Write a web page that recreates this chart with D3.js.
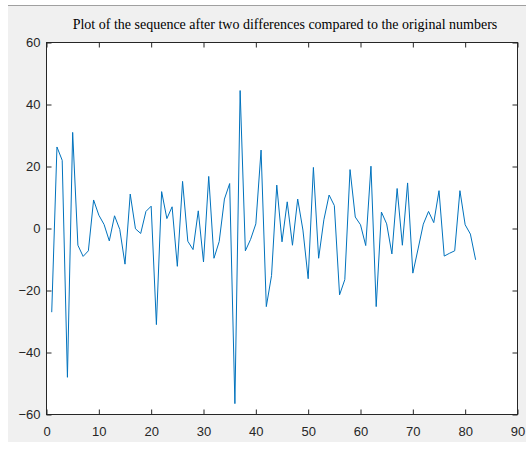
<!DOCTYPE html>
<html>
<head>
<meta charset="utf-8">
<script src="https://cdn.jsdelivr.net/npm/d3@7"></script>
<style>
  html, body { margin: 0; padding: 0; background: #ffffff; }
  .tick text { font-family: "Liberation Sans", Arial, sans-serif; font-size: 13px; fill: #262626; }
  .title { font-family: "Liberation Serif", "Times New Roman", serif; font-size: 14px; fill: #000; }
</style>
</head>
<body>
<svg id="chart" width="526" height="461"></svg>
<script>
// values of the differenced sequence, index 1..82
const seqValues = [
  -27, 26.3, 22, -48, 31, -5.4, -9, -7.2, 9.2, 4.3,
  1.3, -4, 4.1, -0.3, -11.5, 11.1, -0.1, -1.6, 5.5, 7.2,
  -31, 11.9, 3.2, 7, -12.2, 15.2, -4.1, -6.8, 5.7, -10.8,
  16.8, -9.6, -4.2, 9.5, 14.5, -56.5, 44.5, -7.2, -3.5, 1.5,
  25.3, -25.2, -15.2, 14, -4.3, 8.6, -5.4, 9.5, -0.5, -16.2,
  19.7, -9.6, 2.8, 10.8, 7.4, -21.4, -16.5, 19, 3.7, 1.2,
  -5.5, 20.1, -25.2, 5.3, 1.5, -8.2, 12.9, -5.4, 14.7, -14.4,
  -6.6, 1.4, 5.5, 1.9, 12.2, -8.9, -8, -7.2, 12.2, 1.2,
  -1.8, -10.1
];
const seqIndex = seqValues.map((v, i) => i + 1);
const xTicks = [0, 10, 20, 30, 40, 50, 60, 70, 80, 90];
const yTicks = [-60, -40, -20, 0, 20, 40, 60];
const titleText = "Plot of the sequence after two differences compared to the original numbers";

const svg = d3.select("#chart");

// grey figure panel
svg.append("rect")
  .attr("x", 8).attr("y", 5)
  .attr("width", 518).attr("height", 437)
  .attr("fill", "#f0f0f0");
svg.append("line")
  .attr("x1", 8).attr("x2", 526)
  .attr("y1", 5.5).attr("y2", 5.5)
  .attr("stroke", "#a0a0a0");

const plotLeft = 46.5, plotRight = 517.5, plotTop = 42.5, plotBottom = 414.5;

const x = d3.scaleLinear().domain([0, 90]).range([plotLeft, plotRight]);
const y = d3.scaleLinear().domain([-60, 60]).range([plotBottom, plotTop]);

// white axes background
svg.append("rect")
  .attr("x", plotLeft).attr("y", plotTop)
  .attr("width", plotRight - plotLeft).attr("height", plotBottom - plotTop)
  .attr("fill", "#ffffff");

// the series
const line = d3.line()
  .x((d, i) => x(seqIndex[i]))
  .y(d => y(d));

svg.append("path")
  .datum(seqValues)
  .attr("fill", "none")
  .attr("stroke", "#0072BD")
  .attr("stroke-width", 1)
  .attr("stroke-linejoin", "round")
  .attr("d", line);

// axes, ticks pointing inward like matlab
const tickLen = 5;
const axisColor = "#262626";

svg.append("g")
  .attr("transform", "translate(0," + plotBottom + ")")
  .call(d3.axisBottom(x).tickValues(xTicks).tickSize(-tickLen).tickPadding(12));
svg.append("g")
  .attr("transform", "translate(" + plotLeft + ",0)")
  .call(d3.axisLeft(y).tickValues(yTicks).tickSize(-tickLen).tickPadding(6));

// top and right ticks without labels
svg.append("g")
  .attr("transform", "translate(0," + plotTop + ")")
  .call(d3.axisTop(x).tickValues(xTicks).tickSize(-tickLen).tickFormat(""));
svg.append("g")
  .attr("transform", "translate(" + plotRight + ",0)")
  .call(d3.axisRight(y).tickValues(yTicks).tickSize(-tickLen).tickFormat(""));

svg.selectAll(".domain").remove();
svg.selectAll(".tick line").attr("stroke", axisColor);

// box
svg.append("rect")
  .attr("x", plotLeft).attr("y", plotTop)
  .attr("width", plotRight - plotLeft).attr("height", plotBottom - plotTop)
  .attr("fill", "none")
  .attr("stroke", axisColor)
  .attr("stroke-width", 1);

// title
svg.append("text")
  .attr("class", "title")
  .attr("x", 285)
  .attr("y", 29)
  .attr("text-anchor", "middle")
  .text(titleText);
</script>
</body>
</html>
